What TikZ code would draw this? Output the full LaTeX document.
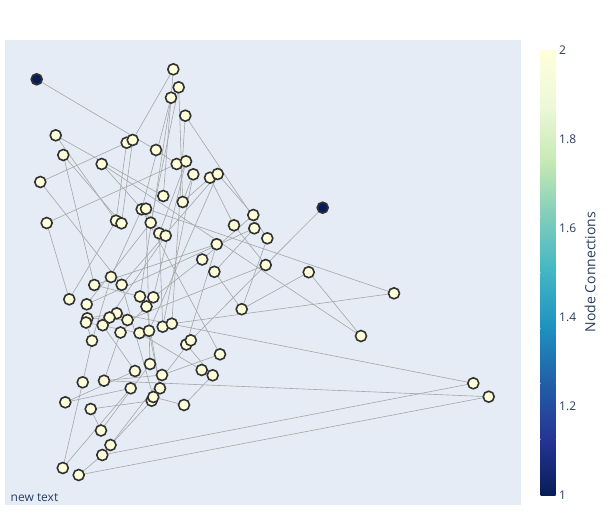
\documentclass[tikz,border=0pt]{standalone}
\usepackage{fontspec}
\setmainfont{Open Sans}
\definecolor{plotbg}{HTML}{E5ECF6}
\definecolor{txt}{HTML}{2A3F5F}
\definecolor{nfill}{RGB}{255,255,217}
\definecolor{ndark}{RGB}{8,29,88}
\definecolor{nline}{RGB}{50,50,50}
\definecolor{edgec}{HTML}{A6A6A6}
\definecolor{c0}{RGB}{8,29,88}
\definecolor{c1}{RGB}{37,52,148}
\definecolor{c2}{RGB}{34,94,168}
\definecolor{c3}{RGB}{29,145,192}
\definecolor{c4}{RGB}{65,182,196}
\definecolor{c5}{RGB}{127,205,187}
\definecolor{c6}{RGB}{199,233,180}
\definecolor{c7}{RGB}{237,248,217}
\definecolor{c8}{RGB}{255,255,217}
\pgfdeclarelayer{back}
\pgfdeclarelayer{edges}
\pgfsetlayers{back,edges,main}
\begin{document}
\begin{tikzpicture}[x=1pt,y=-1pt,
  nd/.style={circle,draw=nline,line width=1.6pt,fill=nfill,minimum size=11pt,inner sep=0pt},
  ndk/.style={nd,fill=ndark},
  edge/.style={draw=edgec,line width=0.6pt},
  tick/.style={anchor=base west,inner sep=0pt,text=txt,font=\fontsize{12}{14}\selectfont}]
\useasboundingbox (0,0) rectangle (613,525);
\begin{pgfonlayer}{back}
\fill[white] (0,0) rectangle (613,525);
\fill[plotbg] (5,40) rectangle (521,505);
\end{pgfonlayer}
% nodes
\node[ndk] (n1) at (36.7,79.3) {};
\node[nd] (n2) at (173.3,69.3) {};
\node[nd] (n3) at (178.7,87.3) {};
\node[nd] (n4) at (171,97.7) {};
\node[nd] (n5) at (185.3,115.7) {};
\node[nd] (n6) at (55.7,135.3) {};
\node[nd] (n8) at (126.7,142.7) {};
\node[nd] (n7) at (132.7,140) {};
\node[nd] (n9) at (156,150) {};
\node[nd] (n10) at (63.3,155) {};
\node[nd] (n11) at (101.7,164) {};
\node[nd] (n12) at (176.7,164) {};
\node[nd] (n13) at (186,161.3) {};
\node[nd] (n14) at (193.3,174.3) {};
\node[nd] (n15) at (210,177.7) {};
\node[nd] (n16) at (217.7,174) {};
\node[nd] (n17) at (40.3,182) {};
\node[nd] (n18) at (163.3,196) {};
\node[nd] (n19) at (182.7,202) {};
\node[nd] (n20) at (141.7,209.3) {};
\node[nd] (n21) at (146,208.7) {};
\node[ndk] (n22) at (322.7,207.7) {};
\node[nd] (n23) at (253.3,215) {};
\node[nd] (n24) at (116,220.7) {};
\node[nd] (n25) at (121.5,223.3) {};
\node[nd] (n26) at (150.7,222.7) {};
\node[nd] (n27) at (234,225.3) {};
\node[nd] (n28) at (254.3,228.3) {};
\node[nd] (n29) at (46.7,223) {};
\node[nd] (n30) at (159.3,233.3) {};
\node[nd] (n31) at (165.7,235.7) {};
\node[nd] (n32) at (267.3,238.3) {};
\node[nd] (n33) at (216.7,244.2) {};
\node[nd] (n34) at (202.2,259.5) {};
\node[nd] (n35) at (265.7,265) {};
\node[nd] (n36) at (214.4,271.8) {};
\node[nd] (n37) at (308.7,272.2) {};
\node[nd] (n38) at (111,277) {};
\node[nd] (n39) at (94.3,285) {};
\node[nd] (n40) at (121.7,284.8) {};
\node[nd] (n41) at (394,293.3) {};
\node[nd] (n42) at (69.3,299.3) {};
\node[nd] (n43) at (140,296.5) {};
\node[nd] (n44) at (153.3,297.3) {};
\node[nd] (n84) at (146.5,306.5) {};
\node[nd] (n45) at (86.7,304.3) {};
\node[nd] (n46) at (241.7,309.2) {};
\node[nd] (n47) at (116.7,313.3) {};
\node[nd] (n48) at (109.5,317.5) {};
\node[nd] (n49) at (87.3,318.3) {};
\node[nd] (n50) at (86,322.5) {};
\node[nd] (n51) at (102.7,325.2) {};
\node[nd] (n52) at (127.5,320) {};
\node[nd] (n53) at (361,336) {};
\node[nd] (n54) at (120.5,332.5) {};
\node[nd] (n55) at (139.5,333) {};
\node[nd] (n56) at (149,330.8) {};
\node[nd] (n57) at (162.7,326.7) {};
\node[nd] (n58) at (171.8,323.7) {};
\node[nd] (n59) at (92,340.7) {};
\node[nd] (n60) at (186.3,344.5) {};
\node[nd] (n61) at (190.8,340.3) {};
\node[nd] (n62) at (220,354.3) {};
\node[nd] (n63) at (150,364) {};
\node[nd] (n64) at (135,371) {};
\node[nd] (n65) at (162,375) {};
\node[nd] (n66) at (201.7,370) {};
\node[nd] (n67) at (212.7,375.3) {};
\node[nd] (n68) at (82.7,382.3) {};
\node[nd] (n69) at (104,380.7) {};
\node[nd] (n70) at (130.7,388.3) {};
\node[nd] (n71) at (160,388.3) {};
\node[nd] (n72) at (473.3,383.3) {};
\node[nd] (n73) at (488.7,396.7) {};
\node[nd] (n74) at (65.3,402.3) {};
\node[nd] (n76) at (151.7,400.7) {};
\node[nd] (n75) at (153.3,397) {};
\node[nd] (n77) at (184,405) {};
\node[nd] (n78) at (90.7,409) {};
\node[nd] (n79) at (101,430.5) {};
\node[nd] (n80) at (110.5,445) {};
\node[nd] (n81) at (62.8,468) {};
\node[nd] (n82) at (78.7,475) {};
\node[nd] (n83) at (102.3,455) {};
% edges
\begin{pgfonlayer}{edges}
\foreach \a/\b in {1/9,9/12,2/7,2/18,3/19,3/26,4/20,4/43,5/32,5/58,6/18,6/24,7/25,8/17,8/24,
  10/39,10/25,11/53,11/31,12/29,13/44,13/30,14/19,14/57,15/19,15/27,16/23,16/40,17/40,
  20/62,21/41,21/63,22/61,23/34,27/35,28/36,28/45,32/46,33/39,33/60,34/44,35/52,36/46,
  37/46,37/53,41/58,24/42,29/42,38/20,38/59,39/43,84/54,45/26,47/72,47/49,48/31,48/51,
  49/52,50/59,50/55,51/64,54/69,55/66,56/71,60/67,61/80,62/65,63/79,64/74,65/69,67/77,
  68/81,68/59,69/73,70/74,70/81,71/84,75/77,75/40,76/78,76/80,78/79,82/83,82/73,83/72,
  56/16,30/57}
  \draw[edge] (n\a.center) -- (n\b.center);
\end{pgfonlayer}
% colorbar
\foreach \i/\j [count=\k from 0] in {c0/c1,c1/c2,c2/c3,c3/c4,c4/c5,c5/c6,c6/c7,c7/c8}
  \shade[bottom color=\i,top color=\j,shading angle=0] (540.7,{495-\k*55.625}) rectangle (555.7,{495-(\k+1)*55.625});
\node[tick] (t2) at (559,54.3) {2};
\node[tick] (t18) at (559,143.3) {1.8};
\node[tick] (t16) at (559,232.3) {1.6};
\node[tick] (t14) at (559,321.3) {1.4};
\node[tick] (t12) at (559,410.3) {1.2};
\node[tick] (t1) at (559,499.3) {1};
\node[rotate=90,text=txt,font=\fontsize{14}{16}\selectfont,inner sep=0pt] (cbt) at (590,272) {Node Connections};
\node[anchor=base west,inner sep=0pt,text=txt,font=\fontsize{12}{14}\selectfont] (nt) at (10.5,501) {new text};
\end{tikzpicture}
\end{document}
